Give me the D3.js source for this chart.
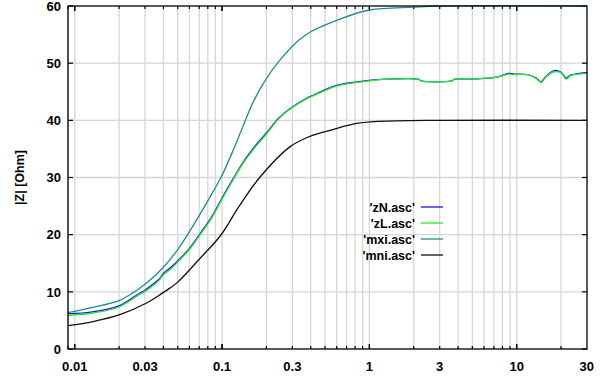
<!DOCTYPE html>
<html>
<head>
<meta charset="utf-8">
<script src="https://cdn.jsdelivr.net/npm/d3@7"></script>
<style>
  body { margin: 0; background: #fff; }
  svg { display: block; font-family: "Liberation Sans", Arial, sans-serif; }
  .tick-label { font-size: 13px; font-weight: bold; fill: #000; }
  .legend-label { font-size: 12.5px; font-weight: bold; fill: #000; }
</style>
</head>
<body>
<div id="svg-container"></div>
<script>
////////////////////////////////////////////////////////////////////
////////////////////////////  Data  ////////////////////////////////
const xTicks = [0.01, 0.03, 0.1, 0.3, 1, 3, 10, 30];
const yTicks = [0, 10, 20, 30, 40, 50, 60];

// frequency / |Z| pairs
const zNFreq = [0.009, 0.0133, 0.02, 0.0275, 0.0297, 0.033, 0.0376, 0.04, 0.045, 0.05, 0.06, 0.071, 0.085, 0.1, 0.119, 0.14, 0.169, 0.2, 0.243, 0.284, 0.377, 0.4, 0.6, 1.0, 1.34, 2.14, 2.25, 3.6, 3.8, 5.0, 7.45, 8.8, 9.6, 11.9, 13.6, 14.6, 15.8, 18, 20, 21.7, 23.2, 30];
const zNVal  = [6.15, 6.5, 7.55, 9.75, 10.2, 11.1, 12.3, 13.2, 14.3, 15.4, 17.6, 20.2, 23.1, 26.4, 29.8, 32.8, 35.6, 37.8, 40.4, 41.9, 43.9, 44.2, 46.1, 47.0, 47.2, 47.2, 46.9, 46.9, 47.2, 47.2, 47.6, 48.2, 48.1, 48.0, 47.4, 46.7, 47.7, 48.7, 48.4, 47.4, 47.9, 48.4];

const zLFreq = zNFreq;
const zLVal  = [5.9, 6.3, 7.35, 9.55, 10.0, 10.8, 12.1, 13.0, 14.0, 15.2, 17.4, 20.0, 22.9, 26.2, 29.6, 32.6, 35.4, 37.6, 40.3, 41.8, 43.8, 44.1, 46.0, 46.9, 47.2, 47.2, 46.9, 46.9, 47.2, 47.2, 47.6, 48.1, 48.0, 48.0, 47.3, 46.6, 47.6, 48.5, 48.3, 47.2, 47.8, 48.2];

const mxiFreq = [0.009, 0.0133, 0.02, 0.0261, 0.0313, 0.04, 0.05, 0.0583, 0.0817, 0.1, 0.12, 0.134, 0.164, 0.2, 0.243, 0.331, 0.4, 0.6, 1, 2, 3, 30];
const mxiVal  = [6.35, 7.3, 8.45, 10.2, 11.7, 14.3, 17.4, 20.0, 26.3, 30.4, 35.0, 38.0, 43.4, 47.3, 50.3, 54.0, 55.5, 57.5, 59.3, 59.8, 60, 60];

const mniFreq = [0.009, 0.0133, 0.02, 0.0305, 0.0376, 0.044, 0.05, 0.07, 0.098, 0.13, 0.18, 0.29, 0.387, 0.55, 0.84, 1.5, 2.9, 30];
const mniVal  = [4.08, 4.8, 5.95, 8.0, 9.45, 10.6, 11.7, 15.7, 19.9, 24.9, 30.0, 35.4, 37.1, 38.3, 39.5, 39.9, 40.0, 40.0];

const seriesNames  = ["'zN.asc'", "'zL.asc'", "'mxi.asc'", "'mni.asc'"];
const seriesColors = ["#1414ff", "#22ee22", "#1f8c8c", "#111111"];

////////////////////////////////////////////////////////////////////
////////////////////////////  Init  ////////////////////////////////
const width = 600;
const height = 377;
const margin = { top: 6, right: 13, bottom: 28, left: 68 };

const svg = d3.select("#svg-container").append("svg")
  .attr("width", width)
  .attr("height", height);

const xScale = d3.scaleLog()
  .domain([0.009, 30])
  .range([margin.left, width - margin.right]);

const yScale = d3.scaleLinear()
  .domain([0, 60])
  .range([height - margin.bottom, margin.top]);

const x0 = margin.left, x1 = width - margin.right;
const y0 = height - margin.bottom, y1 = margin.top;

// grid: every 1..9 per decade
const minorTicks = [];
[0.001, 0.01, 0.1, 1, 10].forEach((dec) => {
  for (let k = 1; k < 10; k++) {
    const v = dec * k;
    if (v > 0.009 && v < 30) minorTicks.push(v);
  }
});

svg.append("g")
  .selectAll("line")
  .data(minorTicks)
  .join("line")
  .attr("x1", (d) => xScale(d))
  .attr("x2", (d) => xScale(d))
  .attr("y1", y0)
  .attr("y2", y1)
  .attr("stroke", "#d6d6d6")
  .attr("stroke-width", 1.3);

svg.append("g")
  .selectAll("line")
  .data(yTicks.slice(1, -1))
  .join("line")
  .attr("x1", x0)
  .attr("x2", x1)
  .attr("y1", (d) => yScale(d))
  .attr("y2", (d) => yScale(d))
  .attr("stroke", "#d6d6d6")
  .attr("stroke-width", 1.3);

// ticks (inside, on all four sides)
const majorSet = new Set([0.01, 0.1, 1, 10]);
const tickG = svg.append("g").attr("stroke", "#000").attr("stroke-width", 1.2);
minorTicks.concat([0.01, 0.1, 1, 10]).forEach((d) => {
  const len = majorSet.has(d) ? 5 : 3;
  const x = xScale(d);
  tickG.append("line").attr("x1", x).attr("x2", x).attr("y1", y0).attr("y2", y0 - len);
  tickG.append("line").attr("x1", x).attr("x2", x).attr("y1", y1).attr("y2", y1 + len);
});
yTicks.forEach((d) => {
  const y = yScale(d);
  tickG.append("line").attr("x1", x0).attr("x2", x0 + 5).attr("y1", y).attr("y2", y);
  tickG.append("line").attr("x1", x1).attr("x2", x1 - 5).attr("y1", y).attr("y2", y);
});

// tick labels
svg.append("g")
  .selectAll("text")
  .data(xTicks)
  .join("text")
  .attr("class", "tick-label")
  .attr("x", (d) => xScale(d))
  .attr("y", height - 6.5)
  .attr("text-anchor", (d, i) => (i === xTicks.length - 1 ? "end" : "middle"))
  .attr("dx", (d, i) => (i === xTicks.length - 1 ? 7 : 0))
  .text((d) => d3.format("~g")(d));

svg.append("g")
  .selectAll("text")
  .data(yTicks)
  .join("text")
  .attr("class", "tick-label")
  .attr("x", x0 - 7)
  .attr("y", (d) => yScale(d))
  .attr("dy", "0.36em")
  .attr("text-anchor", "end")
  .text((d) => d);

// y axis title
svg.append("text")
  .attr("class", "legend-label")
  .attr("transform", `translate(24,${(y0 + y1) / 2}) rotate(-90)`)
  .attr("text-anchor", "middle")
  .text("|Z| [Ohm]");

////////////////////////////////////////////////////////////////////
////////////////////////////  Lines  ///////////////////////////////
svg.append("clipPath").attr("id", "plot-clip")
  .append("rect")
  .attr("x", x0).attr("y", y1 - 1)
  .attr("width", x1 - x0).attr("height", y0 - y1 + 1);

const line = d3.line()
  .curve(d3.curveCatmullRom.alpha(0.5))
  .x((d) => xScale(d[0]))
  .y((d) => yScale(d[1]));

const seriesData = [
  d3.zip(zNFreq, zNVal),
  d3.zip(zLFreq, zLVal),
  d3.zip(mxiFreq, mxiVal),
  d3.zip(mniFreq, mniVal),
];

svg.append("g")
  .attr("clip-path", "url(#plot-clip)")
  .selectAll("path")
  .data(seriesData)
  .join("path")
  .attr("fill", "none")
  .attr("stroke", (d, i) => seriesColors[i])
  .attr("stroke-width", 1.3)
  .attr("d", line);

// frame
svg.append("rect")
  .attr("x", x0).attr("y", y1)
  .attr("width", x1 - x0).attr("height", y0 - y1)
  .attr("fill", "none")
  .attr("stroke", "#000")
  .attr("stroke-width", 1.3);

////////////////////////////////////////////////////////////////////
////////////////////////////  Legend  //////////////////////////////
const legend = svg.append("g")
  .selectAll("g")
  .data(seriesNames)
  .join("g")
  .attr("transform", (d, i) => `translate(0,${207 + i * 16})`);

legend.append("text")
  .attr("class", "legend-label")
  .attr("x", 415)
  .attr("dy", "0.36em")
  .attr("text-anchor", "end")
  .text((d) => d);

legend.append("line")
  .attr("x1", 421)
  .attr("x2", 443)
  .attr("stroke", (d, i) => seriesColors[i])
  .attr("stroke-width", 1.3);
</script>
</body>
</html>
